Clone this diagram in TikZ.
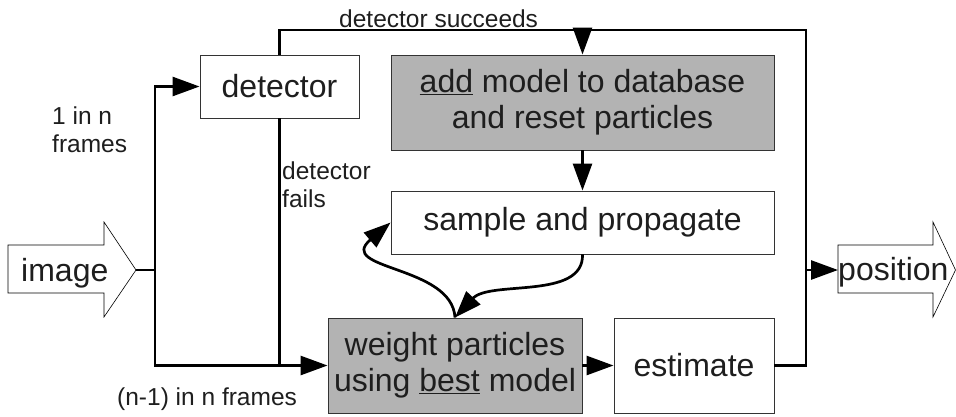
\documentclass[tikz,border=0pt]{standalone}
\usepackage{fontspec}
\setmainfont{Liberation Sans}
\usetikzlibrary{arrows.meta}
\definecolor{ink}{HTML}{1E1E1E}
\definecolor{boxgray}{HTML}{B3B3B3}
\definecolor{boxline}{HTML}{333333}
\begin{document}
\begin{tikzpicture}[x=1pt,y=-1pt,
  box/.style={draw=boxline, line width=0.9pt, text=ink, align=center, inner sep=0pt,
    font=\fontsize{32}{36}\selectfont},
  shaded/.style={box, fill=boxgray},
  flow/.style={line width=2.7pt, draw=black},
  tip/.style={-{Triangle[length=27pt,width=19pt]}},
  lab/.style={text=ink, align=left, inner sep=0pt, font=\fontsize{24.5}{27.5}\selectfont},
  bigarrow/.style={draw=black, line width=0.6pt, fill=white}
]
\useasboundingbox (0,0) rectangle (956,416);

% input and output block arrows
\draw[bigarrow] (8,245) -- (104,245) -- (104,222) -- (136,270) -- (104,317) -- (104,293) -- (8,293) -- cycle;
\draw[bigarrow] (838,245) -- (933,245) -- (933,222) -- (955.5,270) -- (933,317) -- (933,293) -- (838,293) -- cycle;
\node[text=ink, inner sep=0pt, anchor=base west, font=\fontsize{32}{36}\selectfont] (limg) at (21,281) {image};
\node[text=ink, inner sep=0pt, anchor=base west, font=\fontsize{32}{36}\selectfont] (lpos) at (838,280) {position};
\coordinate (imgtip) at (136,270);
\coordinate (posL) at (838,270);

% processing blocks
\node[box, minimum width=159pt, minimum height=63pt] (det) at (279.5,86.5) {detector};
\node[shaded, minimum width=383pt, minimum height=95pt] (add) at (582.5,102.5)
  {\underline{add} model to database\\and reset particles};
\node[box, minimum width=383pt, minimum height=63pt] (samp) at (582.5,222.5) {sample and propagate};
\node[shaded, minimum width=254pt, minimum height=95pt] (wgt) at (455,365.5)
  {weight particles\\using \underline{best} model};
\node[box, minimum width=160pt, minimum height=95pt] (est) at (694,365.5) {estimate};

% junctions
\coordinate (split) at (155,270);
\coordinate (topR) at (806,30);

% connectors
\draw[flow] (imgtip) -- (split);
\draw[flow,tip] (split) |- (det.west);
\draw[flow,tip] (split) |- (wgt.west);
\draw[flow] (det.south) -- (det.south |- wgt.west);
\draw[flow] (est.east) -| (topR) -- (det.north |- topR) -- (det.north);
\draw[flow,tip] (add.north |- topR) -- (add.north);
\draw[flow,tip] (add.south) -- (samp.north);
\draw[flow,tip] (topR |- posL) -- (posL);
\draw[flow,tip] (wgt.east) -- (est.west);
\draw[flow,tip] (samp.south) .. controls (584,300) and (490,280) .. (wgt.north);
\draw[flow,tip] (wgt.north) .. controls (452,265) and (335,270) .. (samp.west);

% labels (multi-line labels are placed by the baseline of their last line)
\node[lab, anchor=base west] (lsucc) at (339,27) {detector succeeds};
\node[lab, anchor=base west] (lone) at (52,152) {1 in n\\frames};
\node[lab, anchor=base west] (lfail) at (282,207) {detector\\fails};
\node[lab, anchor=base west] (lrest) at (117,405) {(n-1) in n frames};
\end{tikzpicture}
\end{document}
